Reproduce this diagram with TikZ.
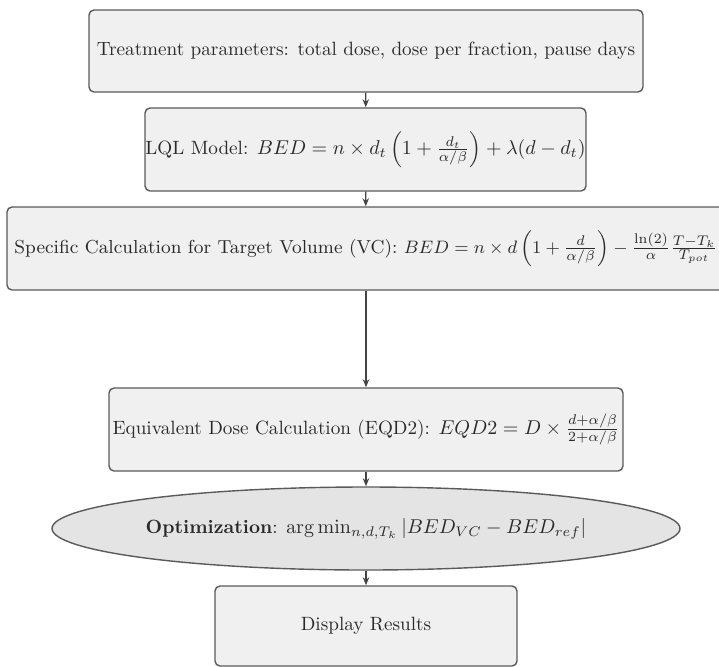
\documentclass[tikz,border=0pt]{standalone}
\usetikzlibrary{shapes.geometric,arrows.meta}
\definecolor{boxgray}{HTML}{F0F0F0}
\definecolor{ellgray}{HTML}{E4E4E4}
\definecolor{linegray}{HTML}{5A5A5A}
\definecolor{arrowgray}{HTML}{444444}
\definecolor{textgray}{HTML}{2A2A2A}
\begin{document}
\begin{tikzpicture}[x=0.5pt,y=-0.5pt,
  box/.style={draw=linegray, fill=boxgray, rounded corners=2.5pt, line width=0.7pt,
    inner sep=0pt, text=textgray, align=center, font=\fontsize{9.6pt}{11.5pt}\selectfont},
  ellbox/.style={ellipse, draw=linegray, fill=ellgray, line width=0.7pt,
    inner sep=0pt, text=textgray, align=center, font=\fontsize{9.6pt}{11.5pt}\selectfont},
  arr/.style={-{Stealth[length=4pt,width=3.2pt]}, draw=arrowgray, line width=0.7pt}]
\useasboundingbox (0,0) rectangle (719,666);
\node[box, minimum width=277pt, minimum height=41pt] (params) at (366,51)
  {Treatment parameters: total dose, dose per fraction, pause days};
\node[box, minimum width=220.5pt, minimum height=41.5pt] (lql) at (365.5,149.5)
  {LQL Model: $BED = n \times d_t \left(1 + \frac{d_t}{\alpha/\beta}\right) + \lambda(d - d_t)$};
\node[box, minimum width=359pt, minimum height=41.5pt, font=\fontsize{9.4pt}{11.3pt}\selectfont] (vc) at (366,248.5)
  {Specific Calculation for Target Volume (VC): $BED = n \times d \left(1 + \frac{d}{\alpha/\beta}\right) - \frac{\ln(2)}{\alpha}\frac{T - T_k}{T_{pot}}$};
\node[box, minimum width=257pt, minimum height=41.5pt] (eqd) at (366,429.5)
  {Equivalent Dose Calculation (EQD2): $EQD2 = D \times \frac{d + \alpha/\beta}{2 + \alpha/\beta}$};
\node[ellbox, minimum width=314pt, minimum height=41.5pt] (opt) at (366,528.5)
  {\textbf{Optimization}: $\arg\min_{n,d,T_k} |BED_{VC} - BED_{ref}|$};
\node[box, minimum width=151pt, minimum height=40pt] (res) at (366,626)
  {Display Results};
\draw[arr] (params) -- (lql);
\draw[arr] (lql) -- (vc);
\draw[arr] (vc) -- (eqd);
\draw[arr] (eqd) -- (opt);
\draw[arr] (opt) -- (res);
\end{tikzpicture}
\end{document}
